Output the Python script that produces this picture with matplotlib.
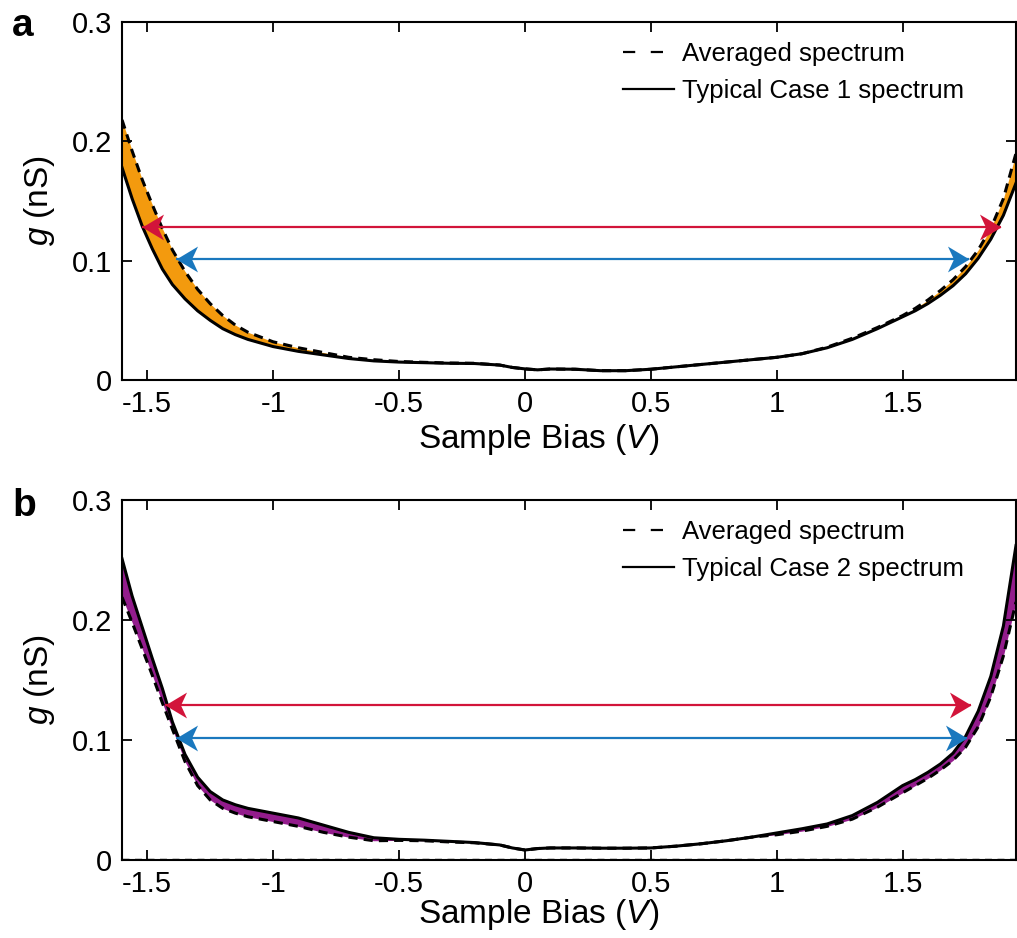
import numpy as np
import matplotlib
matplotlib.use('Agg')
import matplotlib.pyplot as plt
from matplotlib.lines import Line2D
from matplotlib.path import Path

plt.rcParams['font.family'] = ['Liberation Sans', 'DejaVu Sans']
plt.rcParams['mathtext.fontset'] = 'custom'
plt.rcParams['mathtext.it'] = 'Liberation Sans:italic'
plt.rcParams['mathtext.rm'] = 'Liberation Sans'
plt.rcParams['axes.unicode_minus'] = False

# sample bias (V), shared grid for both panels
bias = [-1.6, -1.56, -1.52, -1.48, -1.44, -1.4, -1.35, -1.3, -1.25, -1.2, -1.15, -1.1,
        -1.0, -0.9, -0.8, -0.7, -0.6, -0.5, -0.4, -0.3, -0.2, -0.1, -0.05, 0.0, 0.05,
        0.1, 0.2, 0.3, 0.4, 0.5, 0.6, 0.7, 0.8, 0.9, 1.0, 1.1, 1.2, 1.3, 1.4, 1.5,
        1.55, 1.6, 1.65, 1.7, 1.75, 1.8, 1.85, 1.9, 1.95]

# panel a
case1 = [0.178, 0.152, 0.129, 0.110, 0.093, 0.080, 0.068, 0.058, 0.050, 0.043, 0.038, 0.034,
         0.028, 0.024, 0.021, 0.018, 0.016, 0.015, 0.0145, 0.014, 0.0138, 0.0125, 0.0105, 0.0093, 0.0085,
         0.0092, 0.0090, 0.0078, 0.0078, 0.009, 0.011, 0.013, 0.015, 0.017, 0.019, 0.022, 0.027, 0.034, 0.043, 0.053,
         0.058, 0.064, 0.071, 0.079, 0.089, 0.102, 0.118, 0.138, 0.165]
avg_a = [0.218, 0.192, 0.168, 0.147, 0.127, 0.109, 0.091, 0.076, 0.064, 0.054, 0.046, 0.040,
         0.032, 0.027, 0.023, 0.019, 0.017, 0.0155, 0.0148, 0.0142, 0.014, 0.0125, 0.0105, 0.0093, 0.0085,
         0.0092, 0.0090, 0.0078, 0.0078, 0.009, 0.011, 0.013, 0.015, 0.017, 0.019, 0.022, 0.0275, 0.035, 0.044, 0.054,
         0.060, 0.067, 0.075, 0.084, 0.095, 0.109, 0.127, 0.152, 0.190]

# panel b
case2 = [0.251, 0.220, 0.194, 0.168, 0.143, 0.115, 0.088, 0.069, 0.057, 0.050, 0.046, 0.043,
         0.039, 0.035, 0.029, 0.023, 0.0185, 0.0172, 0.0165, 0.0155, 0.0145, 0.0125, 0.010, 0.0083, 0.0095,
         0.010, 0.010, 0.0098, 0.0098, 0.010, 0.0115, 0.0135, 0.016, 0.019, 0.0225, 0.026, 0.030, 0.037, 0.048, 0.062,
         0.067, 0.073, 0.080, 0.089, 0.103, 0.124, 0.153, 0.195, 0.262]
avg_b = [0.219, 0.198, 0.176, 0.154, 0.131, 0.109, 0.082, 0.062, 0.050, 0.043, 0.039, 0.036,
         0.032, 0.028, 0.023, 0.019, 0.016, 0.0163, 0.016, 0.015, 0.0143, 0.0125, 0.010, 0.0083, 0.0095,
         0.010, 0.010, 0.0098, 0.0098, 0.010, 0.0115, 0.0135, 0.016, 0.019, 0.021, 0.024, 0.028, 0.034, 0.044, 0.056,
         0.062, 0.068, 0.075, 0.083, 0.094, 0.111, 0.136, 0.170, 0.215]

# double arrows: (x_left, x_right, y)
arrows_a = {'red': (-1.52, 1.889, 0.128), 'blue': (-1.385, 1.762, 0.101)}
arrows_b = {'red': (-1.43, 1.77, 0.129), 'blue': (-1.385, 1.754, 0.1015)}

xticks = [-1.5, -1, -0.5, 0, 0.5, 1, 1.5]
xticklabels = ['-1.5', '-1', '-0.5', '0', '0.5', '1', '1.5']
yticks = [0, 0.1, 0.2, 0.3]
yticklabels = ['0', '0.1', '0.2', '0.3']

arrow_colors = {'red': '#d2143a', 'blue': '#1a78be'}

# swept arrowhead markers, tip at the origin
head_r = Path([(0, 0), (-1, 0.6), (-0.72, 0), (-1, -0.6), (0, 0)],
              [Path.MOVETO, Path.LINETO, Path.LINETO, Path.LINETO, Path.CLOSEPOLY])
head_l = Path([(0, 0), (1, 0.6), (0.72, 0), (1, -0.6), (0, 0)],
              [Path.MOVETO, Path.LINETO, Path.LINETO, Path.LINETO, Path.CLOSEPOLY])

fig = plt.figure(figsize=(10.17, 9.38), dpi=100)
ax_a = fig.add_axes([0.12, 0.5949, 0.879, 0.3816])
ax_b = fig.add_axes([0.12, 0.0832, 0.879, 0.3838])

panels = [
    (ax_a, case1, avg_a, '#f39a0e', 'Typical Case 1 spectrum', arrows_a, 'a', -0.118),
    (ax_b, case2, avg_b, '#931c8c', 'Typical Case 2 spectrum', arrows_b, 'b', -0.104),
]

for ax, case, avg, fill_col, case_label, arrows, letter, xl_y in panels:
    x = np.array(bias)
    ax.fill_between(x, case, avg, color=fill_col, lw=0, zorder=1)
    ax.plot(x, avg, color='black', lw=2.2, ls=(0, (3, 2)), zorder=3)
    ax.plot(x, case, color='black', lw=2.2, zorder=2)
    if letter == 'b':
        ax.axhline(0.0006, color='black', lw=1.0, ls=(0, (5, 4)), zorder=2)

    for key, (x0, x1, y) in arrows.items():
        c = arrow_colors[key]
        ax.plot([x0, x1], [y, y], color=c, lw=1.6, solid_capstyle='butt', zorder=4)
        ax.plot([x1], [y], marker=head_r, ms=31, color=c, mec='none', zorder=5)
        ax.plot([x0], [y], marker=head_l, ms=31, color=c, mec='none', zorder=5)

    ax.set_xlim(-1.6, 1.95)
    ax.set_ylim(0, 0.3)
    ax.set_xticks(xticks)
    ax.set_xticklabels(xticklabels)
    ax.set_yticks(yticks)
    ax.set_yticklabels(yticklabels)
    ax.tick_params(direction='in', length=7, width=1.3, labelsize=21,
                   top=True, right=True, pad=7)
    for sp in ax.spines.values():
        sp.set_linewidth(1.5)
    ax.set_xlabel('Sample Bias ($V$)', fontsize=24)
    ax.xaxis.set_label_coords(0.466, xl_y)
    ax.set_ylabel('$g$ (nS)', fontsize=24, labelpad=11)

    handles = [Line2D([], [], color='black', lw=1.6, ls=(0, (5.5, 7))),
               Line2D([], [], color='black', lw=1.6)]
    ax.legend(handles, ['Averaged spectrum', case_label], loc='upper right',
              frameon=False, fontsize=18.5, handlelength=2.0, handletextpad=0.3,
              labelspacing=0.5, borderaxespad=0, borderpad=0,
              bbox_to_anchor=(0.942, 0.944))

fig.text(0.012, 0.972, 'a', fontsize=28, fontweight='bold', va='center')
fig.text(0.012, 0.461, 'b', fontsize=28, fontweight='bold', va='center')

fig.savefig('out.png', dpi=100)
